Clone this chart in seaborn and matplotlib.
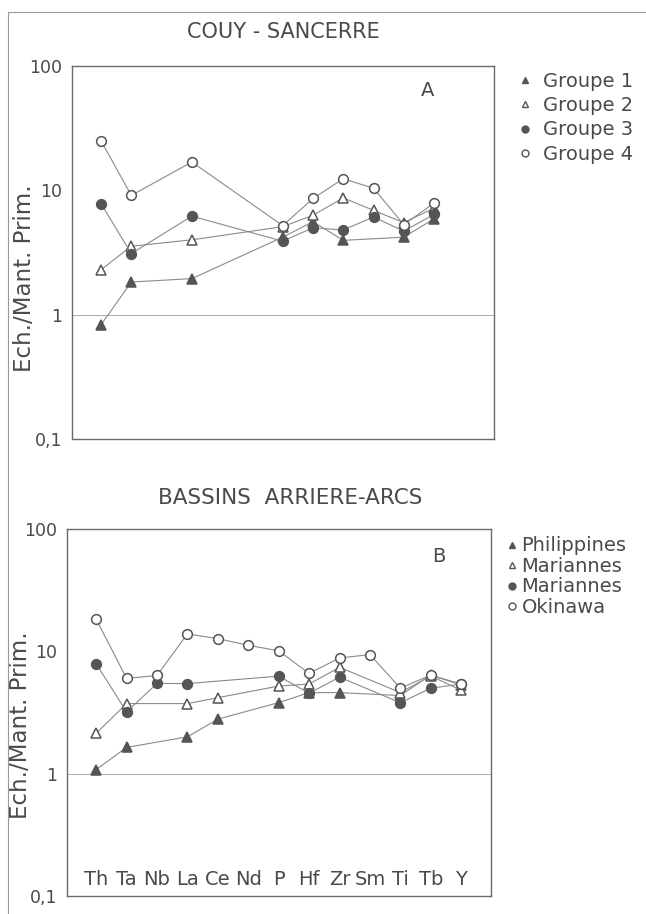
import numpy as np
import pandas as pd
import matplotlib
matplotlib.use('Agg')
import matplotlib.pyplot as plt
from matplotlib.lines import Line2D
from matplotlib.ticker import NullLocator
import seaborn as sns

# éléments (spectre étendu)
elements = ['Th', 'Ta', 'Nb', 'La', 'Ce', 'Nd', 'P', 'Hf', 'Zr', 'Sm', 'Ti', 'Tb', 'Y']

# A : Couy - Sancerre (None = non analysé)
groupe1 = [0.83, 1.83, None, 1.95, None, None, 4.2, 5.6, 3.96, None, 4.2, 5.9, None]
groupe2 = [2.3, 3.55, None, 4.0, None, None, 5.1, 6.3, 8.7, 6.9, 5.5, 7.2, None]
groupe3 = [7.8, 3.1, None, 6.2, None, None, 3.9, 5.0, 4.8, 6.1, 4.7, 6.4, None]
groupe4 = [25.0, 9.1, None, 16.9, None, None, 5.2, 8.6, 12.4, 10.4, 5.3, 7.9, None]

# B : bassins arriere-arcs
philippines = [1.08, 1.64, None, 2.0, 2.79, None, 3.81, 4.6, 4.6, None, 4.35, 6.4, 5.3]
mariannes_t = [2.14, 3.74, None, 3.74, 4.18, None, 5.2, 5.4, 7.4, None, 4.6, 6.3, 4.8]
mariannes_c = [7.9, 3.2, 5.47, 5.45, None, None, 6.27, 4.54, 6.15, None, 3.8, 5.0, 5.4]
okinawa = [18.3, 6.0, 6.35, 13.9, 12.7, 11.2, 10.1, 6.6, 8.83, 9.4, 5.0, 6.4, 5.4]

ytick_vals = [0.1, 1, 10, 100]
ytick_labels = ['0,1', '1', '10', '100']

sns.set_style('white')
plt.rcParams['font.family'] = ['DejaVu Sans']

txt = '#4a4a4a'
dark = '#555555'
linec = '#8a8a8a'

# styles des symboles : plein / vide, triangle / cercle
styles = [('^', dark), ('^', 'white'), ('o', dark), ('o', 'white')]


def long_df(series):
    # une clé numérique par série (deux séries "Mariannes" en B)
    rows = []
    for k, vals in enumerate(series):
        for i, v in enumerate(vals):
            if v is not None:
                rows.append({'serie': k, 'pos': i, 'val': v})
    return pd.DataFrame(rows)


def draw_panel(ax, series):
    df = long_df(series)
    for k, (mk, face) in enumerate(styles):
        sub = df[df['serie'] == k]
        ms = 6.5 if mk == '^' else 7
        sns.lineplot(data=sub, x='pos', y='val', ax=ax, color=linec, lw=0.8,
                     marker=mk, markersize=ms, markerfacecolor=face,
                     markeredgecolor=dark, markeredgewidth=1.1,
                     estimator=None, legend=False)
    ax.set_yscale('log')
    ax.set_ylim(0.1, 100)
    ax.set_xlim(-0.96, 12.98)
    ax.axhline(1, color='#aaaaaa', lw=0.7, zorder=0)
    ax.set_yticks(ytick_vals)
    ax.set_yticklabels(ytick_labels)
    ax.yaxis.set_minor_locator(NullLocator())
    ax.set_xticks(range(len(elements)))
    ax.tick_params(axis='x', direction='in', length=5, width=0.7, color='#888888')
    ax.tick_params(axis='y', direction='out', length=5, width=0.8, color='#666666',
                   labelsize=12.5, labelcolor=txt, pad=2)
    for sp in ax.spines.values():
        sp.set_color('#6a6a6a')
        sp.set_linewidth(1.0)
    ax.set_xlabel('')
    ax.set_ylabel('Ech./Mant. Prim.', fontsize=16.5, color=txt)


def draw_legend(ax, names, anchor, spacing, pad):
    handles = []
    for mk, face in styles:
        handles.append(Line2D([], [], ls='none', marker=mk, markersize=5,
                              markerfacecolor=face, markeredgecolor=dark,
                              markeredgewidth=1.0))
    ax.legend(handles, names, loc='upper left', bbox_to_anchor=anchor,
              frameon=False, fontsize=14, labelcolor=txt, handlelength=0.6,
              handletextpad=pad, labelspacing=spacing, borderpad=0,
              borderaxespad=0)


W, H = 646, 914
fig = plt.figure(figsize=(W / 100, H / 100), dpi=100)

# panneau A
axA = fig.add_axes([72 / W, 1 - 439 / H, 422 / W, 373 / H])
namesA = ['Groupe 1', 'Groupe 2', 'Groupe 3', 'Groupe 4']
draw_panel(axA, [groupe1, groupe2, groupe3, groupe4])
axA.set_xticklabels([])
axA.yaxis.set_label_coords(-0.085, 0.43)
axA.text(0.843, 0.935, 'A', transform=axA.transAxes, fontsize=14, color=txt,
         ha='center', va='center')
draw_legend(axA, namesA, (1.06, 0.985), 0.28, 0.6)
fig.text(283 / W, 1 - 32 / H, 'COUY - SANCERRE', fontsize=15, color=txt,
         ha='center', va='center')

# panneau B
axB = fig.add_axes([67 / W, 1 - 896 / H, 424 / W, 367 / H])
namesB = ['Philippines', 'Mariannes', 'Mariannes', 'Okinawa']
draw_panel(axB, [philippines, mariannes_t, mariannes_c, okinawa])
axB.set_xticklabels(elements, fontsize=14, color=txt)
axB.tick_params(axis='x', pad=-19)
axB.yaxis.set_label_coords(-0.083, 0.465)
axB.text(0.878, 0.926, 'B', transform=axB.transAxes, fontsize=14, color=txt,
         ha='center', va='center')
draw_legend(axB, namesB, (1.035, 0.98), 0.08, 0.2)
fig.text(290 / W, 1 - 498 / H, 'BASSINS  ARRIERE-ARCS', fontsize=15.5, color=txt,
         ha='center', va='center')

# cadre de la planche
fig.add_artist(Line2D([8 / W, 8 / W], [0, 1 - 11.7 / H], transform=fig.transFigure,
                      color='#999999', lw=0.8))
fig.add_artist(Line2D([8 / W, 1], [1 - 11.7 / H, 1 - 11.7 / H], transform=fig.transFigure,
                      color='#999999', lw=0.8))

fig.savefig('out.png', dpi=100, facecolor='white')
